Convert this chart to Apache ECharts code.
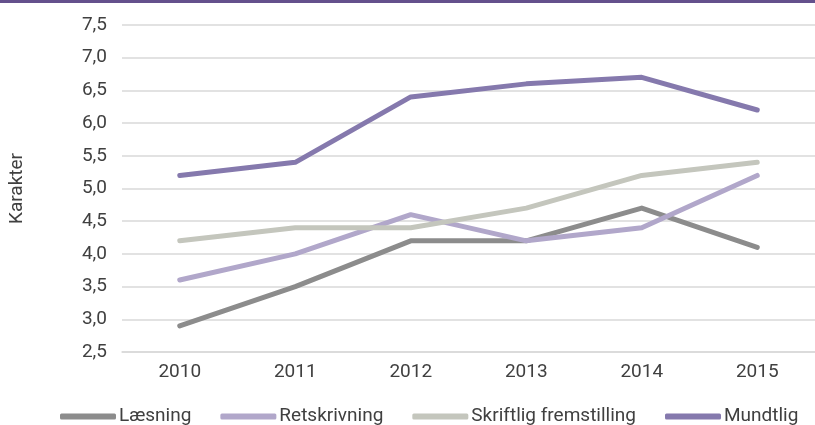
<!DOCTYPE html>
<html>
<head>
<meta charset="utf-8">
<script src="https://cdn.jsdelivr.net/npm/echarts@6/dist/echarts.min.js"></script>
<style>
  html, body { margin: 0; padding: 0; background: #fff; }
  #topbar { position: absolute; left: 0; top: 0; width: 815px; height: 3px; background: #64508c; }
  #chart { width: 815px; height: 425px; }
</style>
</head>
<body>
<div id="topbar"></div>
<div id="chart"></div>
<script>
  var years = ['2010', '2011', '2012', '2013', '2014', '2015'];
  var seriesNames = ['Læsning', 'Retskrivning', 'Skriftlig fremstilling', 'Mundtlig'];
  var laesning = [2.9, 3.5, 4.2, 4.2, 4.7, 4.1];
  var retskrivning = [3.6, 4.0, 4.6, 4.2, 4.4, 5.2];
  var skriftlig = [4.2, 4.4, 4.4, 4.7, 5.2, 5.4];
  var mundtlig = [5.2, 5.4, 6.4, 6.6, 6.7, 6.2];
  var colors = ['#8c8c8c', '#b1a7ca', '#c4c6bd', '#8579ad'];

  var font = 'Roboto, "Liberation Sans", sans-serif';
  var values = [laesning, retskrivning, skriftlig, mundtlig];

  var chart = echarts.init(document.getElementById('chart'));

  var series = [];
  for (var i = 0; i < seriesNames.length; i++) {
    series.push({
      name: seriesNames[i],
      type: 'line',
      data: values[i],
      symbol: 'none',
      color: colors[i],
      lineStyle: { width: 5, color: colors[i], cap: 'round', join: 'round' },
      z: 2 + i
    });
  }

  chart.setOption({
    animation: false,
    textStyle: { fontFamily: font },
    legend: {
      top: 402,
      left: 55,
      icon: 'roundRect',
      itemWidth: 56,
      itemHeight: 6,
      itemGap: 29,
      textStyle: { fontSize: 19, color: '#404040', fontFamily: font, padding: [0, 0, 0, -2] },
      data: seriesNames
    },
    grid: { left: 120, top: 25, width: 701, height: 327 },
    xAxis: {
      type: 'category',
      data: years,
      boundaryGap: true,
      axisLine: { lineStyle: { color: '#d9d9d9', width: 1.5 } },
      axisTick: { show: false },
      axisLabel: { fontSize: 19, color: '#404040', margin: 11 }
    },
    yAxis: {
      type: 'value',
      min: 2.5,
      max: 7.5,
      interval: 0.5,
      name: 'Karakter',
      nameLocation: 'middle',
      nameGap: 95,
      nameTextStyle: { fontSize: 19, color: '#404040' },
      axisLine: { show: false },
      axisTick: { show: false },
      splitLine: { lineStyle: { color: '#d9d9d9', width: 1.5 } },
      axisLabel: {
        fontSize: 19,
        color: '#404040',
        margin: 15,
        formatter: function (v) { return v.toFixed(1).replace('.', ','); }
      }
    },
    series: series
  });
</script>
</body>
</html>
